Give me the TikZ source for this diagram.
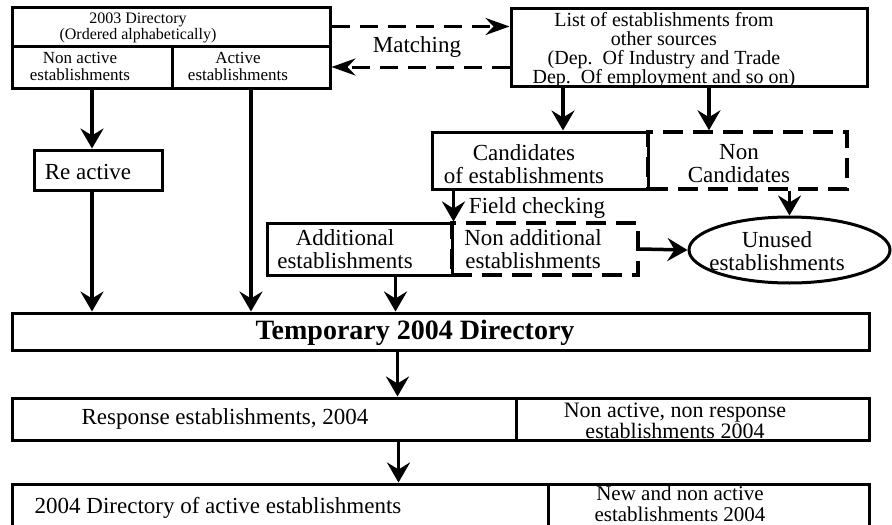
\documentclass[tikz,border=0pt]{standalone}
\usepackage{fontspec}
\setmainfont{Liberation Serif}
\usetikzlibrary{arrows.meta,shapes.geometric}

\begin{document}
\begin{tikzpicture}[x=1pt,y=-1pt,
    box/.style={draw,line width=3pt,inner sep=0pt},
    dbox/.style={draw,line width=3.5pt,inner sep=0pt,dash pattern=on 20pt off 10pt},
    arr/.style={line width=3.5pt,-{Stealth[length=20pt,width=23pt,inset=7pt]}},
    darr/.style={line width=3pt,dash pattern=on 18pt off 10pt,-{Stealth[length=24pt,width=17pt,inset=8pt]}},
    fs/.style={font=\fontsize{#1}{#1}\selectfont,align=center,inner sep=0pt}]
  \useasboundingbox (0,0) rectangle (892,525);
  \clip (0,0) rectangle (892,525);

  % 2003 directory
  \node (dir03) [box, minimum width=318, minimum height=39] at (171,26.5) {};
  \node (dir03t) [fs=16] at (138,28) {2003 Directory\\(Ordered alphabetically)};
  \node (nonact) [box, minimum width=160, minimum height=42] at (92,67) {};
  \node (nonactt) [fs=17] at (80,66) {Non active\\establishments};
  \node (act) [box, minimum width=158, minimum height=42] at (251,67) {};
  \node (actt) [fs=17] at (238,66) {Active\\establishments};

  % other sources
  \node (list) [box, minimum width=356, minimum height=78] at (689,47) {};
  \node (listt) [fs=20, font=\fontsize{20}{19}\selectfont] at (664,50)
    {List of establishments from\\other sources\\(Dep.~~Of Industry and Trade\\Dep.~~Of employment and so on)};
  \node (matching) [fs=23] at (417,47) {Matching};

  \node (react) [box, minimum width=128, minimum height=40] at (98,170) {};
  \node (reactt) [fs=23] at (88,172) {Re active};

  \node (cand) [box, minimum width=216, minimum height=57] at (540,160.5) {};
  \node (candt) [fs=23] at (524,164) {Candidates\\of establishments};
  \node (noncand) [dbox, minimum width=199, minimum height=57] at (747.5,160.5) {};
  \node (noncandt) [fs=23] at (739,164) {Non\\Candidates};
  \node (field) [fs=23] at (537,208) {Field checking};

  \node (add) [box, minimum width=185, minimum height=52] at (359.5,249) {};
  \node (addt) [fs=23] at (345,249) {Additional\\establishments};
  \node (nonadd) [dbox, minimum width=186, minimum height=52] at (545,249) {};
  \node (nonaddt) [fs=23] at (533,249) {Non additional\\establishments};
  \node (unused) [draw, ellipse, line width=3pt, minimum width=201, minimum height=66, inner sep=0pt] at (789.5,250) {};
  \node (unusedt) [fs=23] at (777,251) {Unused\\establishments};

  % 2004 directories
  \node (temp) [box, minimum width=857, minimum height=37] at (440.5,331.5) {};
  \node (tempt) [fs=28, font=\fontsize{28}{28}\selectfont\bfseries] at (415,333) {Temporary 2004 Directory};

  \node (resp) [box, minimum width=857, minimum height=42] at (440.5,419) {};
  \node (respt) [fs=23] at (225,419) {Response establishments, 2004};
  \node (respnt) [fs=22, font=\fontsize{22}{19}\selectfont] at (675,421) {Non active, non response\\establishments 2004};
  \draw [line width=3pt] ([xshift=75.5]resp.north) -- ++(0,45);

  \node (final) [box, minimum width=857, minimum height=50] at (440.5,509) {};
  \node (finalt) [fs=23] at (218,508) {2004 Directory of active establishments};
  \node (finalnt) [fs=21] at (680,504) {New and non active\\establishments 2004};
  \draw [line width=3pt] ([xshift=107.5]final.north) -- ++(0,50);

  \draw [darr] (dir03.east) -- (dir03.east -| list.west);
  \draw [darr] (act.east -| list.west) -- (act.east);

  \draw [arr] (nonact.south) -- (nonact.south |- react.north);
  \draw [arr] (react.south -| nonact.south) -- (nonact.south |- temp.north);
  \draw [arr] (act.south) -- (act.south |- temp.north);
  \draw [arr] ([xshift=-126]list.south) -- ([xshift=-126]list.south |- cand.north);
  \draw [arr] ([xshift=20]list.south) -- ([xshift=20]list.south |- noncand.north);
  \draw [arr] (add.north east |- cand.south) -- (add.north east);
  \draw [arr] (noncand.south -| unused.north) -- (unused.north);
  \draw [arr] (nonadd.east) -- (unused.west);
  \draw [arr] ([xshift=36]add.south) -- ([xshift=36]add.south |- temp.north);
  \draw [arr] ([xshift=-43]temp.south) -- ([xshift=-43]temp.south |- resp.north);
  \draw [arr] ([xshift=-42]resp.south) -- ([xshift=-42]resp.south |- final.north);
\end{tikzpicture}
\end{document}
